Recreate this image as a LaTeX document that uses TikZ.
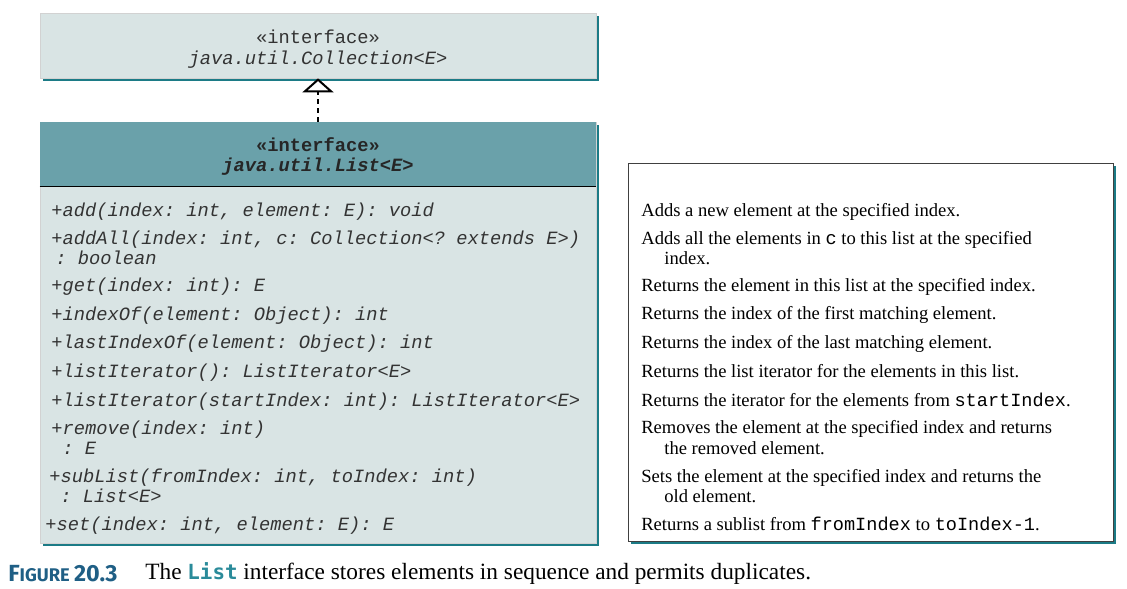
\documentclass[tikz,border=0pt]{standalone}
\usepackage{fontspec}
\setmainfont{Liberation Serif}
\setmonofont{Liberation Mono}
\newfontfamily\figlabelfont{Fira Sans}
\newfontfamily\figcodefont{DejaVu Sans Mono}
\usetikzlibrary{arrows.meta,fit,shadows}

\definecolor{boxfill}{HTML}{D9E4E4}
\definecolor{headfill}{HTML}{6AA1AA}
\definecolor{shadeteal}{HTML}{1C7B86}
\definecolor{capblue}{HTML}{1F5F85}
\definecolor{codeteal}{HTML}{2A8B9A}
\definecolor{methgray}{HTML}{333333}

\tikzset{
  tealshadow/.style={drop shadow={shadow xshift=1.8pt,shadow yshift=-1.8pt,fill=shadeteal,opacity=1}},
  umlbox/.style={draw=gray!35,line width=0.4pt,fill=boxfill,inner sep=0pt,tealshadow},
  headbox/.style={fill=headfill,inner sep=0pt},
  notebox/.style={draw=black!75,line width=0.6pt,fill=white,inner sep=0pt,tealshadow},
  title/.style={inner sep=0pt,text=methgray,font=\fontsize{11.25}{13}\selectfont\ttfamily},
  method/.style={anchor=west,inner sep=0pt,text height=8pt,text depth=2.5pt,
    text=methgray,font=\fontsize{11.25}{13}\selectfont\ttfamily\itshape},
  note/.style={anchor=west,inner sep=0pt,text height=8pt,text depth=2.5pt,
    font=\fontsize{11.15}{13}\selectfont},
  realize/.style={dash pattern=on 3pt off 2.4pt,line width=1.2pt,
    -{Triangle[open,length=8.4pt,width=18.6pt]}}
}

\begin{document}
\begin{tikzpicture}[x=0.6pt,y=-0.6pt]
  \useasboundingbox (0,0) rectangle (1127,588);

  % Kaesten
  \node[umlbox,fit={(40,13) (596,78)}] (coll) {};
  \node[umlbox,fit={(40,122) (596,543)}] (list) {};
  \node[headbox,fit={(40,122) (596,186)}] (listhead) {};
  \draw[line width=0.6pt] (listhead.south west) -- (listhead.south east);
  \node[notebox,fit={(628,163) (1113,541)}] (notes) {};

  % Titel
  \node[title] (collst) at (318,37) {«interface»};
  \node[title,font=\fontsize{11.25}{13}\selectfont\ttfamily\itshape] (collname) at (318,60) {java.util.Collection<E>};
  \node[title,text=black!85,font=\fontsize{11.25}{13}\selectfont\ttfamily\bfseries] (listst) at (318,145) {«interface»};
  \node[title,text=black!85,font=\fontsize{11.25}{13}\selectfont\ttfamily\bfseries\itshape] (listname) at (318,167) {java.util.List<E>};

  % Vererbung
  \draw[realize] (listhead.north) -- (coll.south);

  % Methoden
  \foreach \x/\y/\t [count=\i] in {
      51/212/{+add(index: int, element: E): void},
      51/240/{+addAll(index: int, c: Collection<? extends E>)},
      55/260/{: boolean},
      51/287/{+get(index: int): E},
      51/316/{+indexOf(element: Object): int},
      51/344/{+lastIndexOf(element: Object): int},
      51/373/{+listIterator(): ListIterator<E>},
      51/402/{+listIterator(startIndex: int): ListIterator<E>},
      51/430/{+remove(index: int)},
      62/450/{: E},
      49/478/{+subList(fromIndex: int, toIndex: int)},
      60/498/{: List<E>},
      45/526/{+set(index: int, element: E): E}}
    \node[method] (m\i) at (\x,\y) {\t};

  % Beschreibungen
  \foreach \x/\y/\t [count=\i] in {
      641/212/{Adds a new element at the specified index.},
      641/240/{Adds all the elements in \texttt{c} to this list at the specified},
      664/260/{index.},
      641/287/{Returns the element in this list at the specified index.},
      641/315/{Returns the index of the first matching element.},
      641/344/{Returns the index of the last matching element.},
      641/373/{Returns the list iterator for the elements in this list.},
      641/402/{Returns the iterator for the elements from \texttt{startIndex}.},
      641/429/{Removes the element at the specified index and returns},
      664/450/{the removed element.},
      641/478/{Sets the element at the specified index and returns the},
      664/498/{old element.},
      641/526/{Returns a sublist from \texttt{fromIndex} to \texttt{toIndex-1}.}}
    \node[note] (d\i) at (\x,\y) {\t};

  % Bildunterschrift
  \node[anchor=west,inner sep=0pt,text=capblue] (figlabel) at (8,574)
    {\figlabelfont\bfseries\fontsize{14}{16}\selectfont F\fontsize{11}{13}\selectfont IGURE
     \fontsize{14}{16}\selectfont 20.3};
  \node[anchor=west,inner sep=0pt,font=\fontsize{14}{16}\selectfont] (figtext) at (145,574)
    {The {\figcodefont\bfseries\fontsize{12.5}{15}\selectfont\color{codeteal}List} interface stores elements in sequence and permits duplicates.};
\end{tikzpicture}
\end{document}
